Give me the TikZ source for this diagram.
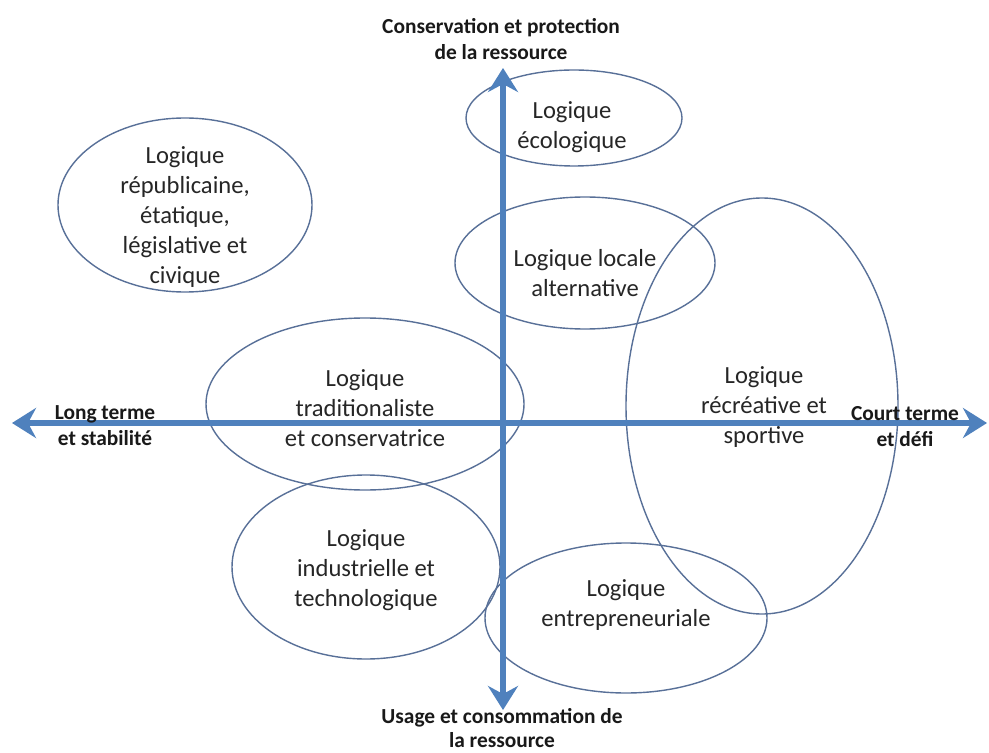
\documentclass[tikz,border=0pt]{standalone}
\usepackage{fontspec}
\setmainfont{Carlito}
\usepackage{tikz}
\usetikzlibrary{arrows.meta,shapes.geometric,positioning}

\definecolor{axisblue}{HTML}{4F81BD}
\definecolor{ringblue}{RGB}{88,112,152}

\begin{document}
\begin{tikzpicture}[
    x=0.5pt, y=-0.5pt,
    logique/.style={draw=ringblue, ellipse, line width=0.7pt, inner sep=0pt},
    txt/.style={align=center, text=black!85, font=\fontsize{12.3}{15}\selectfont},
    axlabel/.style={align=center, text=black!90, font=\fontsize{10.7}{13}\selectfont\bfseries},
    axe/.style={{Stealth[length=12pt,width=15pt,inset=4pt]}-{Stealth[length=12pt,width=15pt,inset=4pt]}, line width=3pt, axisblue}
]
\useasboundingbox[fill=white] (0,0) rectangle (989,753);

% ellipses
\node[logique, minimum width=108pt, minimum height=48pt] (eco) at (574,118) {};
\node[logique, minimum width=127pt, minimum height=87pt] (rep) at (185,205) {};
\node[logique, minimum width=130pt, minimum height=66pt] (loc) at (585,263) {};
\node[logique, minimum width=136pt, minimum height=208pt] (rec) at (762,406) {};
\node[logique, minimum width=159pt, minimum height=86pt] (tra) at (365,404) {};
\node[logique, minimum width=134pt, minimum height=92pt] (ind) at (366,567) {};
\node[logique, minimum width=141pt, minimum height=75pt] (ent) at (626,618) {};

% axes
\coordinate (ouest) at (12,423);
\coordinate (est) at (987,423);
\coordinate (nord) at (503,68);
\coordinate (sud) at (503,710);
\draw[axe] (ouest) -- (est);
\draw[axe] (sud) -- (nord);

% textes
\node[txt] (ecoT) at (572,127) {Logique\\écologique};
\node[txt] (repT) at (185,217) {Logique\\républicaine,\\étatique,\\législative et\\civique};
\node[txt] (locT) at (585,273) {Logique locale\\alternative};
\node[txt] (recT) at (764,407) {Logique\\récréative et\\sportive};
\node[txt] (traT) at (365,408) {Logique\\traditionaliste\\et conservatrice};
\node[txt] (indT) at (366,570) {Logique\\industrielle et\\technologique};
\node[txt] (entT) at (626,605) {Logique\\entrepreneuriale};

\node[axlabel] (haut) at (501,39) {Conservation et protection\\de la ressource};
\node[axlabel, inner sep=1pt, font=\fontsize{10.7}{12}\selectfont\bfseries] (bas) at (502,728) {Usage et consommation de\\la ressource};
\node[axlabel] (gauche) at (105,426) {Long terme\\et stabilité};
\node[axlabel] (droite) at (905,427) {Court terme\\et défi};
\end{tikzpicture}
\end{document}
